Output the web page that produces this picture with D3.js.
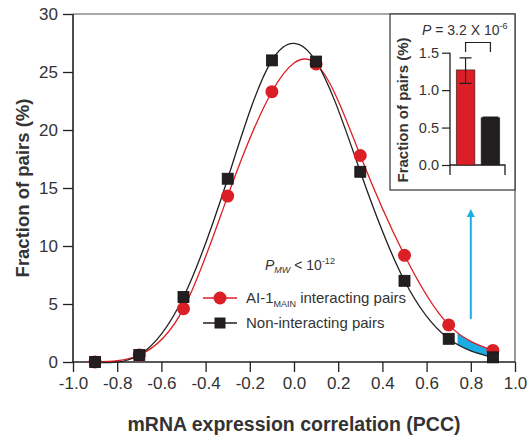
<!DOCTYPE html>
<html>
<head>
<meta charset="utf-8">
<script src="https://cdn.jsdelivr.net/npm/d3@7"></script>
<style>
  body { margin: 0; background: #fff; }
  svg { font-family: "Liberation Sans", Arial, sans-serif; }
</style>
</head>
<body>
<svg id="chart" width="531" height="439"></svg>
<script>
//data
var pcc = [-0.9, -0.7, -0.5, -0.3, -0.1, 0.1, 0.3, 0.5, 0.7, 0.9];
var interacting = [0.0, 0.6, 4.6, 14.3, 23.3, 25.7, 17.8, 9.2, 3.2, 1.0];
var nonInteracting = [0.0, 0.6, 5.6, 15.8, 26.0, 25.9, 16.4, 7.0, 2.0, 0.4];
var xTicks = [-1.0, -0.8, -0.6, -0.4, -0.2, 0.0, 0.2, 0.4, 0.6, 0.8, 1.0];
var yTicks = [0, 5, 10, 15, 20, 25, 30];

//inset bar data
var insetGroups = ["interacting", "non-interacting"];
var insetValues = [1.27, 0.63];
var insetErrLow = [1.09, 0.63];
var insetErrHigh = [1.43, 0.64];
var insetTicks = [0.0, 0.5, 1.0, 1.5];

var red = "#dc1f26",
	black = "#231f20",
	blue = "#1aaee5",
	textColor = "#333";

//plain hyphen instead of unicode minus
var fmt1 = function(d){ return d3.format(".1f")(d).replace("\u2212", "-"); };

var svg = d3.select("#chart");

var x = d3.scaleLinear().domain([-1, 1]).range([73, 515]);
var y = d3.scaleLinear().domain([0, 30]).range([362, 14]);

//frame top and right (thin grey)
svg.append("path")
	.attr("d", "M" + x(-1) + "," + y(30) + "H" + x(1) + "V" + y(0))
	.attr("fill", "none")
	.attr("stroke", "#555")
	.attr("stroke-width", 1.2);

//y axis
var yAxis = svg.append("g")
	.attr("transform", "translate(" + x(-1) + ",0)")
	.call(d3.axisLeft(y).tickValues(yTicks).tickSize(10).tickPadding(5).tickFormat(d3.format("d")));

//x axis
var xAxis = svg.append("g")
	.attr("transform", "translate(0," + y(0) + ")")
	.call(d3.axisBottom(x).tickValues(xTicks).tickSize(10).tickPadding(5).tickFormat(fmt1));

[yAxis, xAxis].forEach(function(g){
	g.select(".domain").attr("stroke", black).attr("stroke-width", 1.6);
	g.selectAll(".tick line").attr("stroke", black).attr("stroke-width", 1.3);
	g.selectAll(".tick text")
		.attr("fill", textColor)
		.style("font-size", "17px")
		.style("font-family", "Liberation Sans, Arial, sans-serif");
});
xAxis.select(".domain").attr("d", "M" + x(-1) + ",0H" + x(1));
yAxis.select(".domain").attr("d", "M0," + y(0) + "V" + y(30));

//axis titles
svg.append("text")
	.attr("x", 294)
	.attr("y", 431)
	.attr("text-anchor", "middle")
	.attr("fill", textColor)
	.style("font-size", "19.5px")
	.style("font-weight", "bold")
	.text("mRNA expression correlation (PCC)");

svg.append("text")
	.attr("transform", "translate(29,188) rotate(-90)")
	.attr("text-anchor", "middle")
	.attr("fill", textColor)
	.style("font-size", "18.5px")
	.style("font-weight", "bold")
	.text("Fraction of pairs (%)");

//shaded area between curves for PCC > 0.74
svg.append("clipPath")
	.attr("id", "tailClip")
	.append("rect")
	.attr("x", x(0.74))
	.attr("y", 0)
	.attr("width", x(0.9) - x(0.74))
	.attr("height", 439);

var tail = pcc.map(function(d, i){ return {x: d, lo: nonInteracting[i], hi: interacting[i]}; });

svg.append("path")
	.datum(tail)
	.attr("clip-path", "url(#tailClip)")
	.attr("fill", blue)
	.attr("d", d3.area()
		.x(function(d){ return x(d.x); })
		.y0(function(d){ return y(d.lo); })
		.y1(function(d){ return y(d.hi); })
		.curve(d3.curveNatural));

//smooth curves
var line = d3.line()
	.x(function(d){ return x(d[0]); })
	.y(function(d){ return y(d[1]); })
	.curve(d3.curveNatural);

svg.append("path")
	.datum(d3.zip(pcc, interacting))
	.attr("fill", "none")
	.attr("stroke", red)
	.attr("stroke-width", 1.3)
	.attr("d", line);

svg.append("path")
	.datum(d3.zip(pcc, nonInteracting))
	.attr("fill", "none")
	.attr("stroke", black)
	.attr("stroke-width", 1.3)
	.attr("d", line);

//markers
svg.selectAll(".dot")
	.data(d3.zip(pcc, interacting))
	.enter().append("circle")
	.attr("class", "dot")
	.attr("cx", function(d){ return x(d[0]); })
	.attr("cy", function(d){ return y(d[1]); })
	.attr("r", 6.5)
	.attr("fill", red);

svg.selectAll(".sq")
	.data(d3.zip(pcc, nonInteracting))
	.enter().append("rect")
	.attr("class", "sq")
	.attr("x", function(d){ return x(d[0]) - 5.5; })
	.attr("y", function(d){ return y(d[1]) - 5.5; })
	.attr("width", 11)
	.attr("height", 11)
	.attr("fill", black)
	.attr("stroke", "#111")
	.attr("stroke-width", 0.8);

//blue arrow
var defs = svg.append("defs");
defs.append("marker")
	.attr("id", "arrowHead")
	.attr("viewBox", "0 0 10 10")
	.attr("refX", 5).attr("refY", 5)
	.attr("markerWidth", 4).attr("markerHeight", 5)
	.attr("orient", "auto")
	.append("path")
	.attr("d", "M0,0L10,5L0,10Z")
	.attr("fill", blue);

svg.append("line")
	.attr("x1", x(0.8)).attr("x2", x(0.8))
	.attr("y1", 319).attr("y2", 213)
	.attr("stroke", blue)
	.attr("stroke-width", 2)
	.attr("marker-end", "url(#arrowHead)");

//P_MW annotation
var pmw = svg.append("text")
	.attr("x", 265)
	.attr("y", 270)
	.attr("fill", textColor)
	.style("font-size", "14px");
pmw.append("tspan").style("font-style", "italic").text("P");
pmw.append("tspan").attr("dy", 3).style("font-size", "9px").style("font-style", "italic").text("MW");
pmw.append("tspan").attr("dy", -3).text(" < 10");
pmw.append("tspan").attr("dy", -6).style("font-size", "9px").text("-12");

//legend
var legend = svg.append("g");
legend.append("line")
	.attr("x1", 203).attr("x2", 237).attr("y1", 298).attr("y2", 298)
	.attr("stroke", red).attr("stroke-width", 1.3);
legend.append("circle")
	.attr("cx", 220).attr("cy", 298).attr("r", 6.5).attr("fill", red);
var l1 = legend.append("text")
	.attr("x", 246).attr("y", 303)
	.attr("fill", textColor)
	.style("font-size", "15px");
l1.append("tspan").text("AI-1");
l1.append("tspan").attr("dy", 4).style("font-size", "9px").text("MAIN");
l1.append("tspan").attr("dy", -4).text(" interacting pairs");

legend.append("line")
	.attr("x1", 203).attr("x2", 237).attr("y1", 323).attr("y2", 323)
	.attr("stroke", black).attr("stroke-width", 1.3);
legend.append("rect")
	.attr("x", 214.5).attr("y", 317.5).attr("width", 11).attr("height", 11)
	.attr("fill", black);
legend.append("text")
	.attr("x", 246).attr("y", 328)
	.attr("fill", textColor)
	.style("font-size", "15px")
	.text("Non-interacting pairs");

//inset panel
var inset = svg.append("g");
inset.append("rect")
	.attr("x", 390).attr("y", 14)
	.attr("width", 125).attr("height", 176)
	.attr("fill", "#fff")
	.attr("stroke", "#333")
	.attr("stroke-width", 1.2);

var iy = d3.scaleLinear().domain([0, 1.5]).range([165, 52.7]);
var ix = d3.scaleBand().domain(insetGroups).range([455, 501]).paddingInner(0.25).paddingOuter(0.05);

var iyAxis = inset.append("g")
	.attr("transform", "translate(450,0)")
	.call(d3.axisLeft(iy).tickValues(insetTicks).tickSize(8).tickPadding(3).tickFormat(fmt1));
iyAxis.select(".domain").attr("d", "M0,175V" + iy(1.5)).attr("stroke", black).attr("stroke-width", 1.3);
iyAxis.selectAll(".tick line").attr("stroke", black).attr("stroke-width", 1.2);
iyAxis.selectAll(".tick text")
	.attr("fill", textColor)
	.style("font-size", "14.5px")
	.style("font-family", "Liberation Sans, Arial, sans-serif");

//inset baseline with end tick
inset.append("path")
	.attr("d", "M450," + iy(0) + "H505V175")
	.attr("fill", "none")
	.attr("stroke", black)
	.attr("stroke-width", 1.3);

inset.selectAll(".bar")
	.data(insetGroups)
	.enter().append("rect")
	.attr("class", "bar")
	.attr("x", function(d){ return ix(d); })
	.attr("y", function(d, i){ return iy(insetValues[i]); })
	.attr("width", ix.bandwidth())
	.attr("height", function(d, i){ return iy(0) - iy(insetValues[i]); })
	.attr("fill", function(d, i){ return i == 0 ? red : black; })
	.attr("stroke", "#222")
	.attr("stroke-width", 0.6);

//error bars
insetGroups.forEach(function(d, i){
	var cx = ix(d) + ix.bandwidth() / 2;
	var w = i == 0 ? 6 : 8;
	inset.append("path")
		.attr("d", "M" + (cx - w) + "," + iy(insetErrHigh[i]) + "H" + (cx + w)
			+ "M" + cx + "," + iy(insetErrHigh[i]) + "V" + iy(insetErrLow[i])
			+ "M" + (cx - w) + "," + iy(insetErrLow[i]) + "H" + (cx + w))
		.attr("fill", "none")
		.attr("stroke", black)
		.attr("stroke-width", 1.2);
});

//significance bracket
inset.append("path")
	.attr("d", "M" + (ix(insetGroups[0]) + ix.bandwidth() / 2) + ",52V42.5H" + (ix(insetGroups[1]) + ix.bandwidth() / 2) + "V52")
	.attr("fill", "none")
	.attr("stroke", black)
	.attr("stroke-width", 1.2);

var pval = inset.append("text")
	.attr("x", 422)
	.attr("y", 35)
	.attr("fill", textColor)
	.style("font-size", "14px");
pval.append("tspan").style("font-style", "italic").text("P");
pval.append("tspan").text(" = 3.2 X 10");
pval.append("tspan").attr("dy", -6).style("font-size", "9px").text("-6");

inset.append("text")
	.attr("transform", "translate(408,110) rotate(-90)")
	.attr("text-anchor", "middle")
	.attr("fill", textColor)
	.style("font-size", "15px")
	.style("font-weight", "bold")
	.text("Fraction of pairs (%)");
</script>
</body>
</html>
